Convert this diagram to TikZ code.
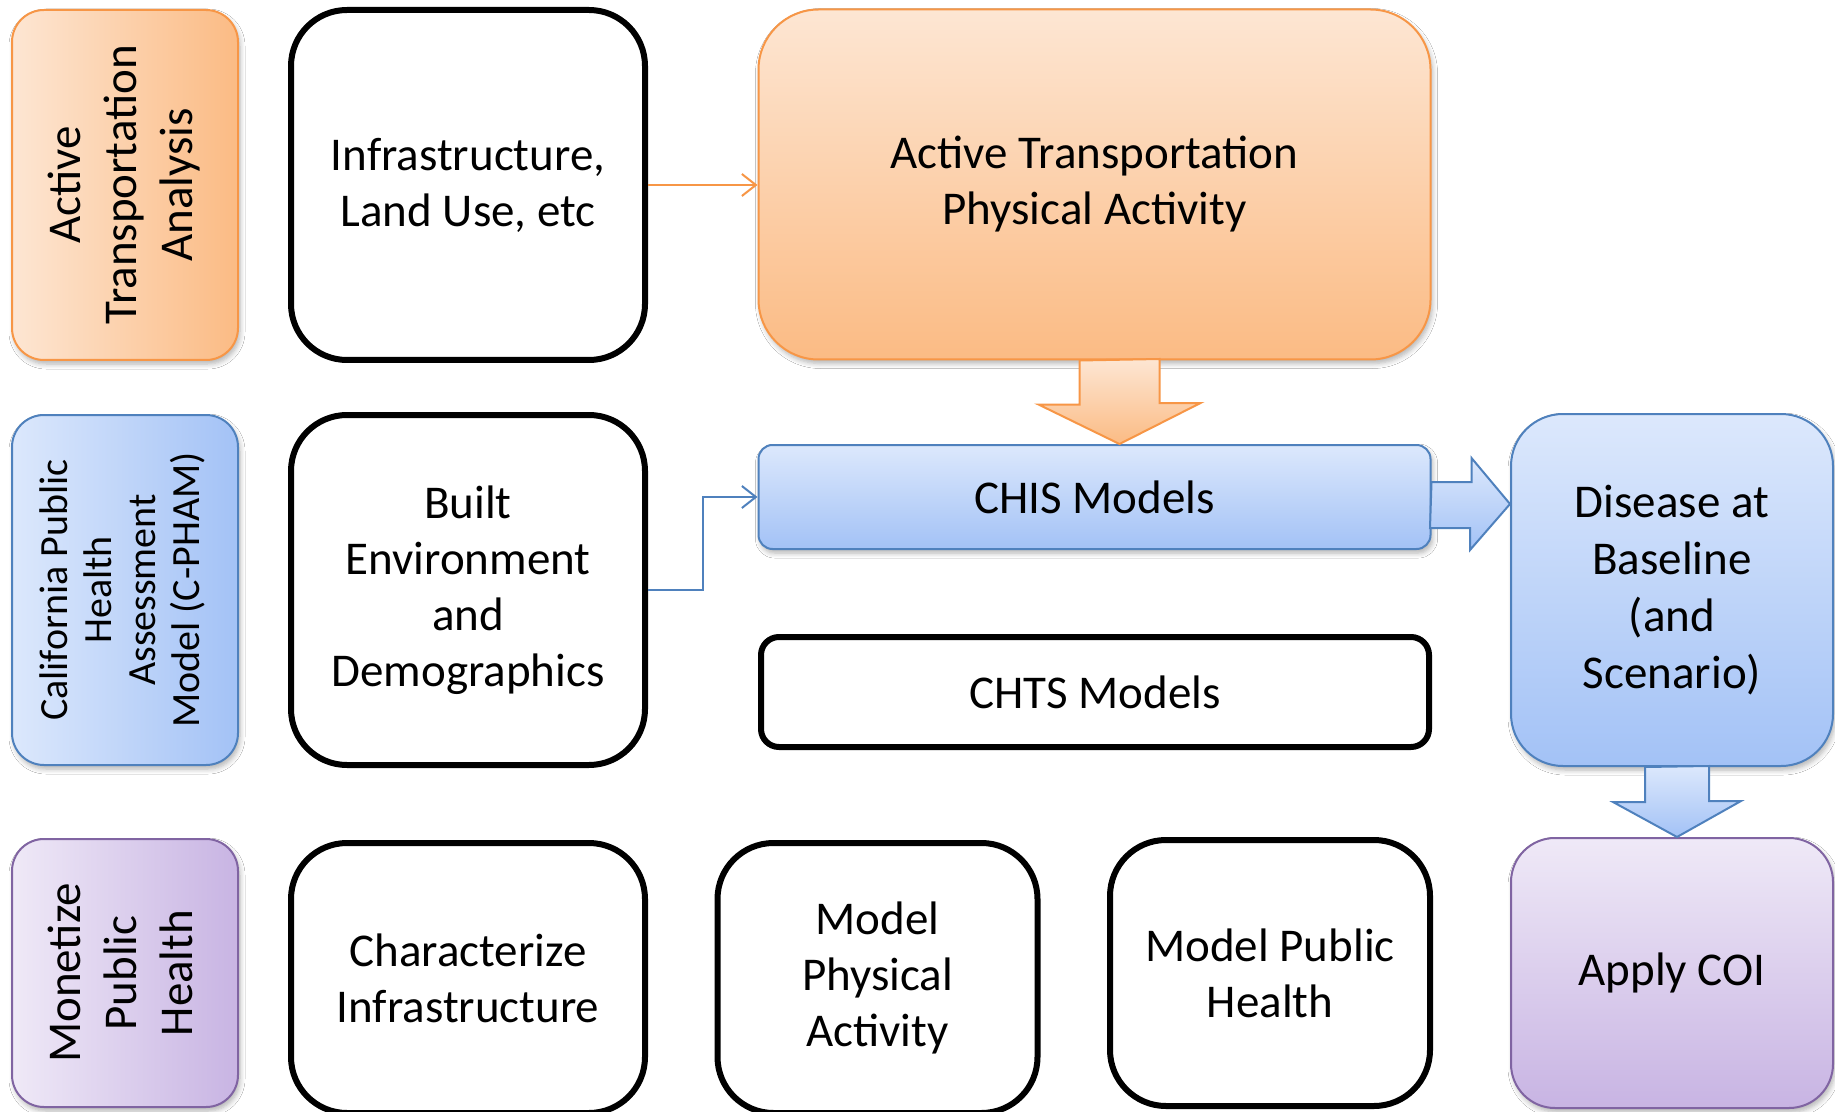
\documentclass[tikz,border=0pt]{standalone}
\usepackage{fontspec}
\setmainfont{Carlito}
\usepackage{tikz}
\usetikzlibrary{arrows.meta, positioning, calc, shadows.blur}

\definecolor{orgline}{HTML}{F79646}
\definecolor{orglight}{HTML}{FDE6D3}
\definecolor{orgdark}{HTML}{FBBB84}
\definecolor{blueline}{HTML}{4F81BD}
\definecolor{bluelight}{HTML}{DCE8FC}
\definecolor{bluedark}{HTML}{A3C2F6}
\definecolor{purpline}{HTML}{8064A2}
\definecolor{purplight}{HTML}{EFE9F7}
\definecolor{purpdark}{HTML}{C8B4E3}

\tikzset{
  soft/.style={blur shadow={shadow xshift=1pt, shadow yshift=-2pt,
      shadow blur radius=2.5pt, shadow blur steps=6, shadow opacity=30}},
  box/.style={rectangle, rounded corners=28pt, draw=black, line width=3pt,
      align=center, inner sep=0pt, font=\fontsize{23.5}{28}\selectfont},
  side/.style={rectangle, rounded corners=16pt, line width=1pt, soft,
      minimum width=113pt, minimum height=175pt, inner sep=0pt,
      font=\fontsize{23.5}{28}\selectfont},
  panel/.style={rectangle, line width=1pt, soft, align=center, inner sep=0pt,
      font=\fontsize{23.5}{28}\selectfont},
  orgpanel/.style={panel, draw=orgline, top color=orglight, bottom color=orgdark},
  bluepanel/.style={panel, draw=blueline, top color=bluelight, bottom color=bluedark},
  purppanel/.style={panel, draw=purpline, top color=purplight, bottom color=purpdark},
  thin/.style={line width=1pt, -{Straight Barb[length=7pt, width=11pt]}},
  bigarrow/.style={line width=1pt, line join=miter},
}

\begin{document}
\begin{tikzpicture}[x=0.5pt, y=-0.5pt]
  \path[use as bounding box, fill=white] (0,0) rectangle (1835,1112);

  % row headings
  \node[side, draw=orgline, left color=orglight, right color=orgdark] (ata) at (125,185)
    {\rotatebox{90}{\begin{tabular}{c}Active\\Transportation\\Analysis\end{tabular}}};
  \node[side, draw=blueline, left color=bluelight, right color=bluedark] (cpham) at (125,590)
    {\fontsize{20}{22}\selectfont\rotatebox{90}{\begin{tabular}{c}California Public\\Health\\Assessment\\Model (C-PHAM)\end{tabular}}};
  \node[side, draw=purpline, left color=purplight, right color=purpdark,
        minimum height=134pt] (mph) at (125,973)
    {\rotatebox{90}{\begin{tabular}{c}Monetize\\Public\\Health\end{tabular}}};

  % inputs
  \node[box, minimum width=177pt, minimum height=175pt] (infra) at (468,185)
    {Infrastructure,\\Land Use, etc};
  \node[box, minimum width=177pt, minimum height=175pt] (built) at (468,590)
    {Built\\Environment\\and\\Demographics};
  \node[box, minimum width=177pt, minimum height=135pt] (charinf) at (468,978)
    {Characterize\\Infrastructure};

  % models
  \node[orgpanel, rounded corners=30pt, minimum width=336pt, minimum height=175pt] (atpa) at (1094.5,184.5)
    {Active Transportation\\Physical Activity};
  \node[bluepanel, rounded corners=7pt, minimum width=336pt, minimum height=52pt] (chis) at (1094.5,497)
    {CHIS Models};
  \node[box, rounded corners=9pt, minimum width=334pt, minimum height=55pt] (chts) at (1095,692)
    {CHTS Models};
  \node[box, minimum width=160pt, minimum height=135pt] (modpa) at (877.5,978)
    {Model\\Physical\\Activity};
  \node[box, minimum width=160pt, minimum height=133pt] (modph) at (1270,973)
    {Model Public\\Health};

  % outcomes
  \node[bluepanel, rounded corners=26pt, minimum width=161pt, minimum height=176pt,
        font=\fontsize{23.5}{28.5}\selectfont] (disease) at (1672,590)
    {Disease at\\Baseline\\(and\\Scenario)};
  \node[purppanel, rounded corners=22pt, minimum width=161pt, minimum height=135pt] (coi) at (1672,973)
    {Apply COI};

  % thin connectors
  \draw[thin, orgline] (infra.east) -- (infra.east -| atpa.west);
  \draw[thin, blueline] (built.east) -- ++(55,0) |- (chis.west);

  % block arrows
  \shade[bigarrow, draw=orgline, top color=orglight, bottom color=orgdark]
    ($(atpa.south)+(-15,0)$) -- ++(0,44) -- ++(-41,0) -- ($(chis.north)+(25,0)$)
    -- ++(81,-41) -- ++(-41,0) -- ++(0,-44) -- cycle;
  \shade[bigarrow, draw=blueline, top color=bluelight, bottom color=bluedark]
    ($(chis.east)+(0,-15)$) -- ++(40,0) -- ++(0,-24) -- ($(disease.west)+(0,-86)$)
    -- ++(-40,46) -- ++(0,-22) -- ++(-40,0) -- cycle;
  \shade[bigarrow, draw=blueline, top color=bluelight, bottom color=bluedark]
    ($(disease.south)+(-27,0)$) -- ++(0,35) -- ++(-32,0) -- ($(coi.north)+(5,0)$)
    -- ++(64,-36) -- ++(-32,0) -- ++(0,-35) -- cycle;
\end{tikzpicture}
\end{document}
